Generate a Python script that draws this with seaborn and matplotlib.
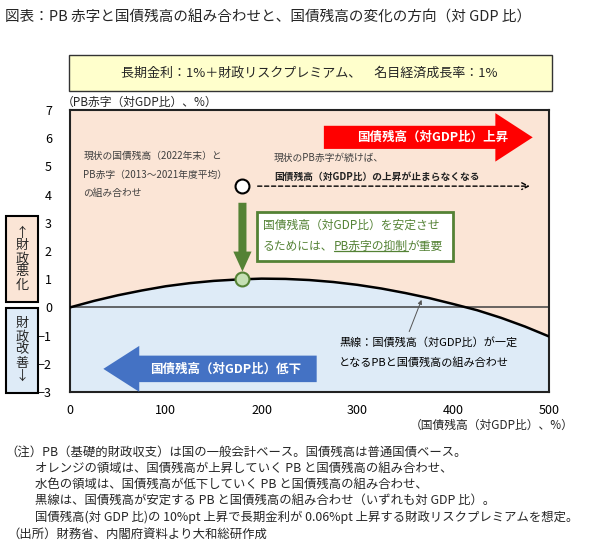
import pandas as pd
import matplotlib
matplotlib.use("Agg")
import matplotlib.pyplot as plt
import matplotlib.patches as mpatches
from matplotlib.lines import Line2D
import seaborn as sns

# debt-to-GDP (%) vs. PB deficit (% of GDP) that keeps debt ratio constant
debt = [0, 25, 50, 75, 100, 125, 150, 175, 200, 225, 250, 275, 300, 325, 350,
        375, 400, 425, 450, 475, 500]
pb = [0, 0.23, 0.43, 0.60, 0.75, 0.86, 0.94, 0.99, 1.02, 1.01, 0.97, 0.90, 0.80,
      0.67, 0.51, 0.33, 0.12, -0.10, -0.37, -0.68, -1.03]

current_debt = 180
current_pb = 4.3
stable_pb = 1.0

x_ticks = [0, 100, 200, 300, 400, 500]
y_ticks = [-3, -2, -1, 0, 1, 2, 3, 4, 5, 6, 7]

ORANGE = '#FBE5D6'
BLUE = '#DEEBF7'
GREEN = '#548235'
LIGHTGREEN = '#C5E0B4'
RED = '#FF0000'
ARROWBLUE = '#4472C4'

sns.set_theme(style='white')
plt.rcParams['font.family'] = ['Noto Sans CJK JP', 'DejaVu Sans']

W, H = 600, 549
fig = plt.figure(figsize=(6, 5.49), dpi=100)
ax = fig.add_axes([70 / W, 1 - 392 / H, 479 / W, 282 / H])

df = pd.DataFrame({'debt': debt, 'pb': pb})
ax.fill_between(df['debt'], df['pb'], y_ticks[-1], color=ORANGE, lw=0, zorder=0)
ax.fill_between(df['debt'], y_ticks[0], df['pb'], color=BLUE, lw=0, zorder=0)
ax.axhline(0, color='#404040', lw=1.1, zorder=1)
sns.lineplot(data=df, x='debt', y='pb', color='black', lw=1.8, ax=ax, zorder=3)

ax.set_xlim(0, 500)
ax.set_ylim(-3, 7)
ax.set_xticks(x_ticks)
ax.set_yticks(y_ticks)
ax.tick_params(axis='both', length=0, labelsize=9, colors='black')
ax.tick_params(axis='x', pad=9)
ax.tick_params(axis='y', pad=13)
ax.set_xlabel('')
ax.set_ylabel('')
for s in ax.spines.values():
    s.set_color('#222222')
    s.set_linewidth(1.5)

# red arrow (debt rising)
ax.add_patch(mpatches.FancyArrow(265, 6.03, 218, 0, width=0.82, head_width=1.72,
                                 head_length=39, length_includes_head=True,
                                 color=RED, lw=0, zorder=4))
ax.text(378, 6.03, '国債残高（対GDP比）上昇', color='white', fontsize=9,
        fontweight='bold', ha='center', va='center', zorder=5)

# blue arrow (debt falling)
ax.add_patch(mpatches.FancyArrow(257.5, -2.18, -222.7, 0, width=0.94, head_width=1.63,
                                 head_length=37.5, length_includes_head=True,
                                 color=ARROWBLUE, lw=0, zorder=4))
ax.text(162, -2.18, '国債残高（対GDP比）低下', color='white', fontsize=9,
        fontweight='bold', ha='center', va='center', zorder=5)

# current point and dashed arrow
ax.annotate('', xy=(483, current_pb), xytext=(193, current_pb),
            arrowprops=dict(arrowstyle='->', ls=(0, (3, 2)), color='black', lw=1),
            zorder=4)
ax.plot([current_debt], [current_pb], 'o', ms=10, mfc='white', mec='black', mew=1.5, zorder=6)

# green arrow down to stable point
ax.add_patch(mpatches.FancyArrow(current_debt, 3.71, 0, -2.44, width=8.4, head_width=19,
                                 head_length=0.71, length_includes_head=True,
                                 color=GREEN, lw=0, zorder=4))
ax.plot([current_debt], [stable_pb], 'o', ms=10, mfc=LIGHTGREEN, mec=GREEN, mew=1.5, zorder=6)

# green box
ax.add_patch(mpatches.Rectangle((195, 1.64), 205, 1.75, fc='white', ec=GREEN, lw=2, zorder=4))
ax.text(201.5, 2.92, '国債残高（対GDP比）を安定させ', color=GREEN, fontsize=8.5,
        ha='left', va='center', zorder=5)
t1 = ax.text(201.5, 2.15, 'るためには、', color=GREEN, fontsize=8.5,
             ha='left', va='center', zorder=5)
t2 = ax.annotate('PB赤字の抑制', xy=(1, 0.5), xycoords=t1, color=GREEN, fontsize=8.5,
                 ha='left', va='center', zorder=5)
ax.annotate('が重要', xy=(1, 0.5), xycoords=t2, color=GREEN, fontsize=8.5,
            ha='left', va='center', zorder=5)

# annotation texts in orange area
gray = '#404040'
ax.text(14, 5.37, '現状の国債残高（2022年末）と', fontsize=7, color=gray, va='center')
ax.text(14, 4.70, 'PB赤字（2013～2021年度平均）', fontsize=7, color=gray, va='center')
ax.text(14, 4.04, 'の組み合わせ', fontsize=7, color=gray, va='center')
ax.text(213, 5.30, '現状のPB赤字が続けば、', fontsize=7, color=gray, va='center')
ax.text(213, 4.62, '国債残高（対GDP比）の上昇が止まらなくなる', fontsize=7, color='#222222',
        fontweight='bold', va='center')

# black line label
ax.text(281, -1.23, '黒線：国債残高（対GDP比）が一定', fontsize=8, color='black', va='center')
ax.text(281, -1.97, 'となるPBと国債残高の組み合わせ', fontsize=8, color='black', va='center')
ax.annotate('', xy=(368, 0.36), xytext=(353, -0.95),
            arrowprops=dict(arrowstyle='-|>', color='#555555', lw=0.7, mutation_scale=6))

# axis labels
fig.text(62 / W, 1 - 102 / H, '（PB赤字（対GDP比）、%）', fontsize=8.5, va='center', ha='left')
fig.text(574 / W, 1 - 425 / H, '（国債残高（対GDP比）、%）', fontsize=8.5, va='center', ha='right')

# left side boxes
fig.add_artist(mpatches.Rectangle((6 / W, 1 - 302 / H), 32 / W, 86 / H, fc=ORANGE,
                                  ec='black', lw=1.5, transform=fig.transFigure))
fig.add_artist(mpatches.Rectangle((6 / W, 1 - 393 / H), 32 / W, 85 / H, fc=BLUE,
                                  ec='black', lw=1.5, transform=fig.transFigure))
fig.text(22 / W, 1 - 259 / H, '\n'.join('↑財政悪化'), fontsize=9.5, ha='center',
         va='center', linespacing=1.0)
fig.text(22 / W, 1 - 350 / H, '\n'.join('財政改善↓'), fontsize=9.5, ha='center',
         va='center', linespacing=1.0)

# title and condition box
fig.text(5 / W, 1 - 17 / H, '図表：PB 赤字と国債残高の組み合わせと、国債残高の変化の方向（対 GDP 比）',
         fontsize=10.5, va='center', ha='left')
fig.add_artist(mpatches.Rectangle((69 / W, 1 - 91 / H), 483 / W, 36 / H, fc='#FFFFCC',
                                  ec='#333333', lw=1, transform=fig.transFigure))
fig.text(309 / W, 1 - 73 / H, '長期金利：1%＋財政リスクプレミアム、　名目経済成長率：1%',
         fontsize=9.4, va='center', ha='center')

# notes
notes = [
    (5, 452, '（注）PB（基礎的財政収支）は国の一般会計ベース。国債残高は普通国債ベース。'),
    (35, 468, 'オレンジの領域は、国債残高が上昇していく PB と国債残高の組み合わせ、'),
    (35, 484, '水色の領域は、国債残高が低下していく PB と国債残高の組み合わせ、'),
    (35, 500, '黒線は、国債残高が安定する PB と国債残高の組み合わせ（いずれも対 GDP 比）。'),
    (35, 517, '国債残高(対 GDP 比)の 10%pt 上昇で長期金利が 0.06%pt 上昇する財政リスクプレミアムを想定。'),
    (7, 534, '（出所）財務省、内閣府資料より大和総研作成'),
]
for x, y, s in notes:
    fig.text(x / W, 1 - y / H, s, fontsize=8.9, va='center', ha='left')

# underline for PB赤字の抑制
fig.canvas.draw()
bb = t2.get_window_extent()
inv = fig.transFigure.inverted()
(x0, y0), (x1, _) = inv.transform([(bb.x0, bb.y0 + 2), (bb.x1, bb.y0 + 2)])
fig.add_artist(Line2D([x0, x1], [y0, y0], color=GREEN, lw=0.9, transform=fig.transFigure))

fig.savefig('out.png', dpi=100)
